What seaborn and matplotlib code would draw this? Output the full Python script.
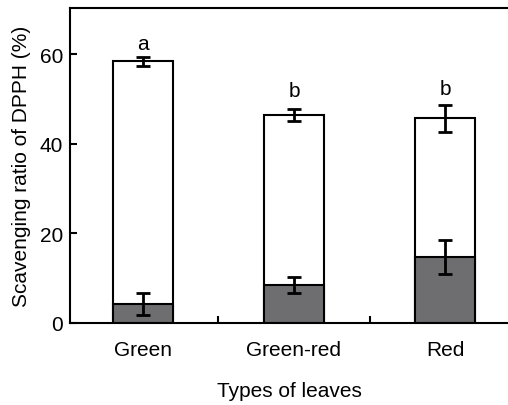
import numpy as np
import pandas as pd
import matplotlib
matplotlib.use('Agg')
import matplotlib.pyplot as plt
import seaborn as sns

# Data
leaf_types = ['Green', 'Green-red', 'Red']
total_ratio = [58.4, 46.4, 45.7]
total_err = [1.0, 1.3, 3.0]
part_ratio = [4.2, 8.5, 14.8]
part_err = [2.4, 1.8, 3.8]
letters = ['a', 'b', 'b']
letter_y = [62.4, 51.8, 52.4]

df = pd.DataFrame({'type': leaf_types, 'total': total_ratio, 'part': part_ratio})

sns.set_style('ticks', {'axes.edgecolor': 'black', 'text.color': 'black',
                        'axes.labelcolor': 'black', 'xtick.color': 'black',
                        'ytick.color': 'black'})
plt.rcParams['font.family'] = ['Liberation Sans', 'DejaVu Sans']
fs = 15

fig = plt.figure(figsize=(5.08, 4.06), dpi=100)
ax = fig.add_axes([70 / 508, 82 / 406, 1 - 70 / 508, 315 / 406])

sns.barplot(data=df, x='type', y='total', color='white', edgecolor='black',
            linewidth=1.5, width=0.4, saturation=1, ax=ax)
sns.barplot(data=df, x='type', y='part', color='#6e6e70', edgecolor='black',
            linewidth=1.5, width=0.4, saturation=1, ax=ax)

pos = np.arange(len(leaf_types))
ax.errorbar(pos, total_ratio, yerr=total_err, fmt='none', ecolor='black',
            elinewidth=2, capsize=4.7, capthick=2, zorder=5)
ax.errorbar(pos, part_ratio, yerr=part_err, fmt='none', ecolor='black',
            elinewidth=2, capsize=4.7, capthick=2, zorder=5)

for x, y, s in zip(pos, letter_y, letters):
    ax.text(x, y, s, ha='center', va='center', fontsize=fs, color='black')

ax.set_xlim(-0.483, 2.417)
ax.set_ylim(0, 70.3)
ax.set_yticks([0, 20, 40, 60])
ax.set_xticks([0.5, 1.5])
ax.set_xticklabels(['', ''])
ax.set_xticks(pos, minor=True)
ax.set_xticklabels(leaf_types, minor=True)
ax.tick_params(axis='x', which='major', direction='in', length=5, width=1.5)
ax.tick_params(axis='x', which='minor', length=0, pad=12, labelsize=fs)
ax.tick_params(axis='y', direction='in', length=5, width=1.5, pad=5, labelsize=fs)

for side in ['left', 'top', 'bottom']:
    ax.spines[side].set_linewidth(1.5)
ax.spines['right'].set_visible(False)

ax.set_xlabel('Types of leaves', fontsize=fs, labelpad=16)
ax.set_ylabel('Scavenging ratio of DPPH (%)', fontsize=fs, labelpad=6)

fig.savefig('out.png', dpi=100)
